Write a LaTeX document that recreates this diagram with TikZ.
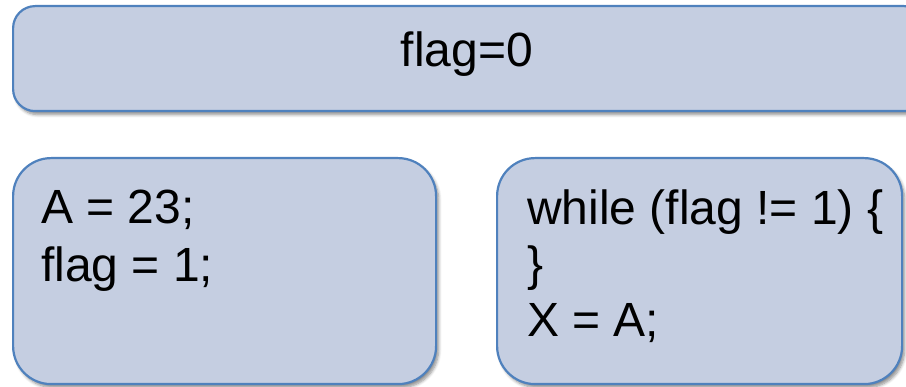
\documentclass[tikz,border=0pt]{standalone}
\usepackage{fontspec}
\setmainfont{Liberation Sans}
\usetikzlibrary{shadows.blur}
\definecolor{boxfill}{RGB}{197,206,225}
\definecolor{boxline}{RGB}{79,129,189}
\tikzset{
  box/.style={draw=boxline, fill=boxfill, line width=2.2pt, anchor=north west, inner sep=0pt,
    blur shadow={shadow xshift=2.5pt, shadow yshift=-3.5pt, shadow blur steps=6, shadow blur radius=3pt, shadow opacity=45}},
  code/.style={anchor=base west, inner sep=0pt, font=\fontsize{48}{57}\selectfont, text=black},
}
\begin{document}
\begin{tikzpicture}[x=1pt,y=-1pt]
\useasboundingbox (0,0) rectangle (906,387);
\node[box, rounded corners=22pt, minimum width=913pt, minimum height=105pt] (top) at (12,5) {};
\node[box, rounded corners=38pt, minimum width=423pt, minimum height=226pt] (left) at (12,157) {};
\node[box, rounded corners=38pt, minimum width=405pt, minimum height=226pt] (right) at (496,157) {};
\node[code, anchor=base] (t0) at (467,67) {flag=0};
\node[code] (l1) at (41,224) {A = 23;};
\node[code] (l2) at (41,282) {flag = 1;};
\node[code] (r1) at (527,225) {while (flag != 1) \{};
\node[code] (r2) at (527,281) {\}};
\node[code] (r3) at (527,337) {X = A;};
\end{tikzpicture}
\end{document}
